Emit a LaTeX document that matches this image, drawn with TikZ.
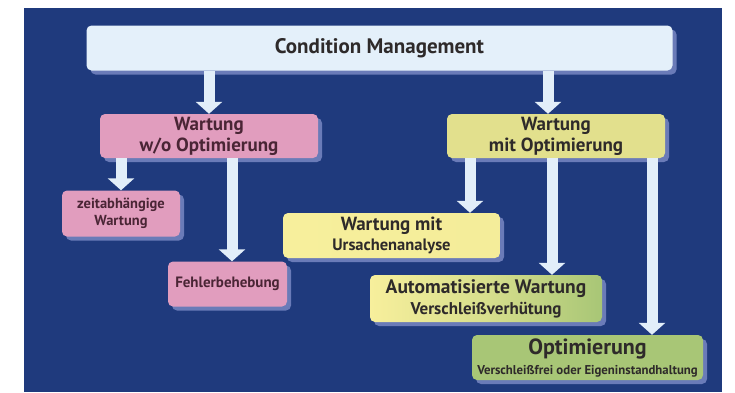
\documentclass[tikz,border=0pt]{standalone}
\usepackage{fontspec}
\setmainfont{PT Sans}
\usetikzlibrary{arrows.meta,shadows,calc}
\definecolor{bgblue}{HTML}{1F3A7D}
\definecolor{shadowc}{HTML}{6A7BB8}
\definecolor{cmfill}{HTML}{E4F0FA}
\definecolor{pinkf}{HTML}{E19DBE}
\definecolor{ygreen}{HTML}{E2E08D}
\definecolor{yellowf}{HTML}{F7EF9C}
\definecolor{greenf}{HTML}{A8C676}
\definecolor{arrowc}{HTML}{E2EEF9}
\definecolor{txt}{HTML}{2E2A2A}
\definecolor{pinktxt}{HTML}{4A2535}
\tikzset{
  box/.style={rounded corners=5pt, inner sep=0pt, align=center, font=\bfseries, text=txt,
    drop shadow={shadow xshift=4pt, shadow yshift=-4pt, fill=shadowc, opacity=1}},
  bigarrow/.style={draw=arrowc, line width=11pt, -{Triangle[width=26pt,length=12pt]}, shorten >=0pt},
}
\begin{document}
\begin{tikzpicture}[x=1pt,y=-1pt]
\useasboundingbox (0,0) rectangle (735,392);
\fill[white] (0,0) rectangle (735,392);
\fill[bgblue] (24,8) rectangle (722,392);

\node[box, fill=cmfill, minimum width=586pt, minimum height=45pt, font=\bfseries\fontsize{21}{24}\selectfont]
  (cm) at (379.5,48) {Condition Management};
\node[box, fill=pinkf, text=pinktxt, minimum width=218pt, minimum height=44pt, font=\bfseries\fontsize{19}{21}\selectfont]
  (wo) at (209,136) {Wartung\\w/o Optimierung};
\node[box, fill=ygreen, minimum width=218pt, minimum height=44pt, font=\bfseries\fontsize{19}{21}\selectfont]
  (wm) at (556,136) {Wartung\\mit Optimierung};
\node[box, fill=pinkf, text=pinktxt, minimum width=118pt, minimum height=46pt, font=\bfseries\fontsize{14.5}{17}\selectfont]
  (zeit) at (121,213.5) {zeitabhängige\\Wartung};
\node[box, fill=pinkf, text=pinktxt, minimum width=119pt, minimum height=45pt, font=\bfseries\fontsize{15}{17}\selectfont]
  (fehler) at (227.5,284) {Fehlerbehebung};
\node[box, left color=yellowf, right color=yellowf!85!ygreen, minimum width=217pt, minimum height=45pt, font=\bfseries\fontsize{19}{20}\selectfont]
  (ursache) at (391.5,235.5) {Wartung mit\\{\fontsize{16.5}{19}\selectfont Ursachenanalyse}};
\node[box, left color=yellowf, right color=greenf, middle color=yellowf!60!greenf, minimum width=232pt, minimum height=47pt, font=\bfseries\fontsize{19.5}{21}\selectfont]
  (auto) at (486,298.5) {Automatisierte Wartung\\{\fontsize{17}{19}\selectfont Verschleißverhütung}};
\node[box, fill=greenf, minimum width=231pt, minimum height=45pt, font=\bfseries\fontsize{22}{20}\selectfont]
  (opt) at (587.5,357.5) {Optimierung\\{\fontsize{12.8}{14}\selectfont Verschleißfrei oder Eigeninstandhaltung}};

\draw[bigarrow] (cm.south -| wo.north) -- (wo.north);
\draw[bigarrow] ([xshift=-8pt]cm.south -| wm.north) -- ([xshift=-8pt]wm.north);
\draw[bigarrow] (zeit.north |- wo.south) -- (zeit.north);
\draw[bigarrow] ([xshift=4.5pt]fehler.north |- wo.south) -- ([xshift=4.5pt]fehler.north);
\draw[bigarrow] ([xshift=-86pt]wm.south) coordinate (a1) -- (a1 |- ursache.north);
\draw[bigarrow] ([xshift=-4pt]wm.south) coordinate (a2) -- (a2 |- auto.north);
\draw[bigarrow] ([xshift=96pt]wm.south) coordinate (a3) -- (a3 |- opt.north);
\end{tikzpicture}
\end{document}
